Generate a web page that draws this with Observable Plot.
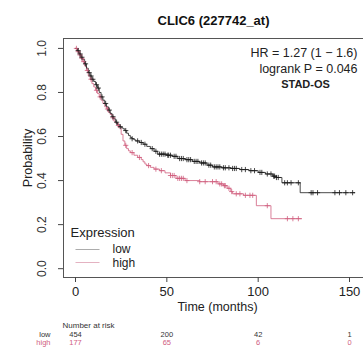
<!DOCTYPE html>
<html>
<head>
<meta charset="utf-8">
<script src="https://cdn.jsdelivr.net/npm/d3@7"></script>
<script src="https://cdn.jsdelivr.net/npm/@observablehq/plot@0.6"></script>
<style>
  html, body { margin: 0; padding: 0; background: #fff; }
  #chart svg { display: block; }
</style>
</head>
<body>
<div id="chart"></div>
<script>
// ---- Data ----
const title = "CLIC6 (227742_at)";
const statLines = ["HR = 1.27 (1 \u2212 1.6)", "logrank P = 0.046"];
const cohort = "STAD-OS";
const groups = ["low", "high"];

const lowT = [0,1,2,3,4,5,6,7,8,9,10,11,12,13,14,15,16,17,18,19,20,21,22,23,24,25,26,27,28,29,30,31,32,33,35,37,39,41,43,45,50,53,56,60,64,68,72,75,80,85,90,95,100,104,108,110,113,123,153];
const lowS = [1,0.99,0.975,0.96,0.95,0.93,0.91,0.89,0.875,0.86,0.85,0.835,0.82,0.80,0.78,0.765,0.75,0.735,0.72,0.705,0.69,0.68,0.665,0.655,0.645,0.64,0.635,0.627,0.615,0.605,0.595,0.59,0.585,0.58,0.573,0.565,0.555,0.545,0.533,0.52,0.515,0.51,0.50,0.495,0.487,0.48,0.47,0.462,0.458,0.455,0.45,0.445,0.437,0.43,0.42,0.414,0.39,0.345,0.345];

const highT = [0,1,2,3,4,5,6,7,8,9,10,11,12,13,14,15,16,17,18,19,20,21,22,23,24,25,26,27,28,29,30,32,34,36,37,38,39,41,43,46,49,52,55,60,68,78,81,83,85,86,92,99,107,124];
const highS = [1,0.985,0.97,0.955,0.94,0.92,0.90,0.875,0.86,0.84,0.825,0.81,0.795,0.78,0.765,0.75,0.735,0.725,0.71,0.70,0.685,0.67,0.66,0.65,0.64,0.61,0.58,0.56,0.545,0.535,0.527,0.515,0.505,0.495,0.485,0.475,0.468,0.46,0.452,0.445,0.435,0.423,0.41,0.40,0.395,0.385,0.377,0.365,0.35,0.34,0.333,0.286,0.227,0.227];

const lowCensor = [1.5,2.5,3.5,5.5,7.5,8.5,9.5,11.5,12.5,14.5,16.5,18.5,20.5,22.5,24.5,27.5,31,34,36,38,42,44,46,47,48,49,50.5,51,52,54,55,57,58,59,61,62,63,65,66,67,69,70,71,73,74,76,77,78,79,81,82,84,86,87,88,91,93,96,98,101,102,105,107,108.5,109,110,111,114.5,116,118,122,129,130,132.5,142,144.5,148,151.7];
const highCensor = [0.5,1.5,2.5,3.5,4.5,6.5,8.5,11.5,13.5,17.5,20.5,23.5,27.5,31,35,40,44,47,52,53,54,56,57,58,59,61,68,71,75,77,79,80,81.5,82,84,85.5,88,90,93,95.5,97,105,116,119,122];

const riskTimes = [0, 50, 100, 150];
const riskLow = [454, 200, 42, 1];
const riskHigh = [177, 65, 6, 0];

const xTicks = [0, 50, 100, 150];
const yTicks = [0, 0.2, 0.4, 0.6, 0.8, 1.0];

// ---- Build tables ----
const colors = {low: "#1a1a1a", high: "#d0607f"};
const lowCurve = lowT.map((t, i) => ({t, s: lowS[i]}));
const highCurve = highT.map((t, i) => ({t, s: highS[i]}));
function stepAt(curve, t) {
  let s = curve[0].s;
  for (const p of curve) { if (p.t <= t) s = p.s; else break; }
  return s;
}
const lowMarks = lowCensor.map(t => ({t, s: stepAt(lowCurve, t)}));
const highMarks = highCensor.map(t => ({t, s: stepAt(highCurve, t)}));

const plus = {
  draw(ctx, size) {
    const r = Math.sqrt(size / Math.PI);
    ctx.moveTo(-r, 0); ctx.lineTo(r, 0);
    ctx.moveTo(0, -r); ctx.lineTo(0, r);
  }
};
const hline = {
  draw(ctx) { ctx.moveTo(-12, 0); ctx.lineTo(12, 0); }
};

const font = "'Liberation Sans', Arial, Helvetica, sans-serif";

const chart = Plot.plot({
  width: 363,
  height: 347,
  marginLeft: 63,
  marginRight: 0,
  marginTop: 38,
  marginBottom: 70,
  style: {fontFamily: font, background: "#fff", overflow: "visible"},
  x: {domain: [-6.57, 157.66]},
  y: {domain: [-0.04, 1.045]},
  marks: [
    Plot.frame({stroke: "#555", strokeWidth: 1}),
    Plot.axisY({ticks: yTicks, tickSize: 5, tickFormat: () => "", label: null, stroke: "#444"}),
    Plot.text(yTicks, {y: d => d, text: d => d.toFixed(1), frameAnchor: "left", dx: -21, rotate: -90, fontSize: 12, fill: "#333", textAnchor: "middle", lineAnchor: "middle"}),
    Plot.axisX({ticks: xTicks, tickSize: 5, tickPadding: 4, fontSize: 13, label: null, stroke: "#444", fill: "#222"}),
    Plot.text(["Probability"], {frameAnchor: "left", dx: -36, rotate: -90, fontSize: 12.5, fill: "#222", textAnchor: "middle", lineAnchor: "middle"}),
    Plot.text(["Time (months)"], {frameAnchor: "bottom", dx: 4, dy: 29, fontSize: 12.5, fill: "#222", lineAnchor: "middle"}),
    // curves
    Plot.line(highCurve, {x: "t", y: "s", curve: "step-after", stroke: colors.high, strokeWidth: 0.8}),
    Plot.line(lowCurve, {x: "t", y: "s", curve: "step-after", stroke: colors.low, strokeWidth: 0.8}),
    Plot.dot(highMarks, {x: "t", y: "s", symbol: plus, r: 2.6, stroke: colors.high, strokeWidth: 0.8, fill: "none"}),
    Plot.dot(lowMarks, {x: "t", y: "s", symbol: plus, r: 2.6, stroke: colors.low, strokeWidth: 0.8, fill: "none"}),
    // title and stats
    Plot.text([title], {frameAnchor: "top", dx: 0, dy: -18, fontSize: 13, fontWeight: "bold", fill: "#111", lineAnchor: "middle"}),
    Plot.text([statLines[0]], {frameAnchor: "top-right", dx: -6, dy: 14, textAnchor: "end", lineAnchor: "middle", fontSize: 12.5, fill: "#222"}),
    Plot.text([statLines[1]], {frameAnchor: "top-right", dx: -6, dy: 30, textAnchor: "end", lineAnchor: "middle", fontSize: 12.5, fill: "#222"}),
    Plot.text([cohort], {frameAnchor: "top-right", dx: -58, dy: 46, textAnchor: "middle", lineAnchor: "middle", fontSize: 11, fontWeight: "bold", fill: "#222"}),
    // legend
    Plot.text(["Expression"], {frameAnchor: "bottom-left", dx: 7, dy: -45, textAnchor: "start", lineAnchor: "middle", fontSize: 13, fill: "#222"}),
    Plot.dot([groups[0]], {frameAnchor: "bottom-left", dx: 24, dy: -28, symbol: hline, stroke: "#888", strokeWidth: 0.7, fill: "none"}),
    Plot.dot([groups[1]], {frameAnchor: "bottom-left", dx: 24, dy: -15, symbol: hline, stroke: "#d890a6", strokeWidth: 0.7, fill: "none"}),
    Plot.text([groups[0]], {frameAnchor: "bottom-left", dx: 49, dy: -28, textAnchor: "start", lineAnchor: "middle", fontSize: 12, fill: "#222"}),
    Plot.text([groups[1]], {frameAnchor: "bottom-left", dx: 49, dy: -14, textAnchor: "start", lineAnchor: "middle", fontSize: 12, fill: "#222"}),
    // number at risk
    Plot.text(["Number at risk"], {frameAnchor: "bottom-left", dx: -1, dy: 47.5, textAnchor: "start", lineAnchor: "middle", fontSize: 8, fill: "#333"}),
    Plot.text([groups[0]], {frameAnchor: "bottom-left", dx: -13, dy: 57, textAnchor: "end", lineAnchor: "middle", fontSize: 7.5, fill: "#333"}),
    Plot.text([groups[1]], {frameAnchor: "bottom-left", dx: -13, dy: 65, textAnchor: "end", lineAnchor: "middle", fontSize: 7.5, fill: colors.high}),
    Plot.text(riskTimes, {x: d => d, text: (d, i) => String(riskLow[i]), frameAnchor: "bottom", dy: 57, lineAnchor: "middle", fontSize: 7.5, fill: "#333"}),
    Plot.text(riskTimes, {x: d => d, text: (d, i) => String(riskHigh[i]), frameAnchor: "bottom", dy: 65, lineAnchor: "middle", fontSize: 7.5, fill: colors.high})
  ]
});
document.getElementById("chart").appendChild(chart);
</script>
</body>
</html>
